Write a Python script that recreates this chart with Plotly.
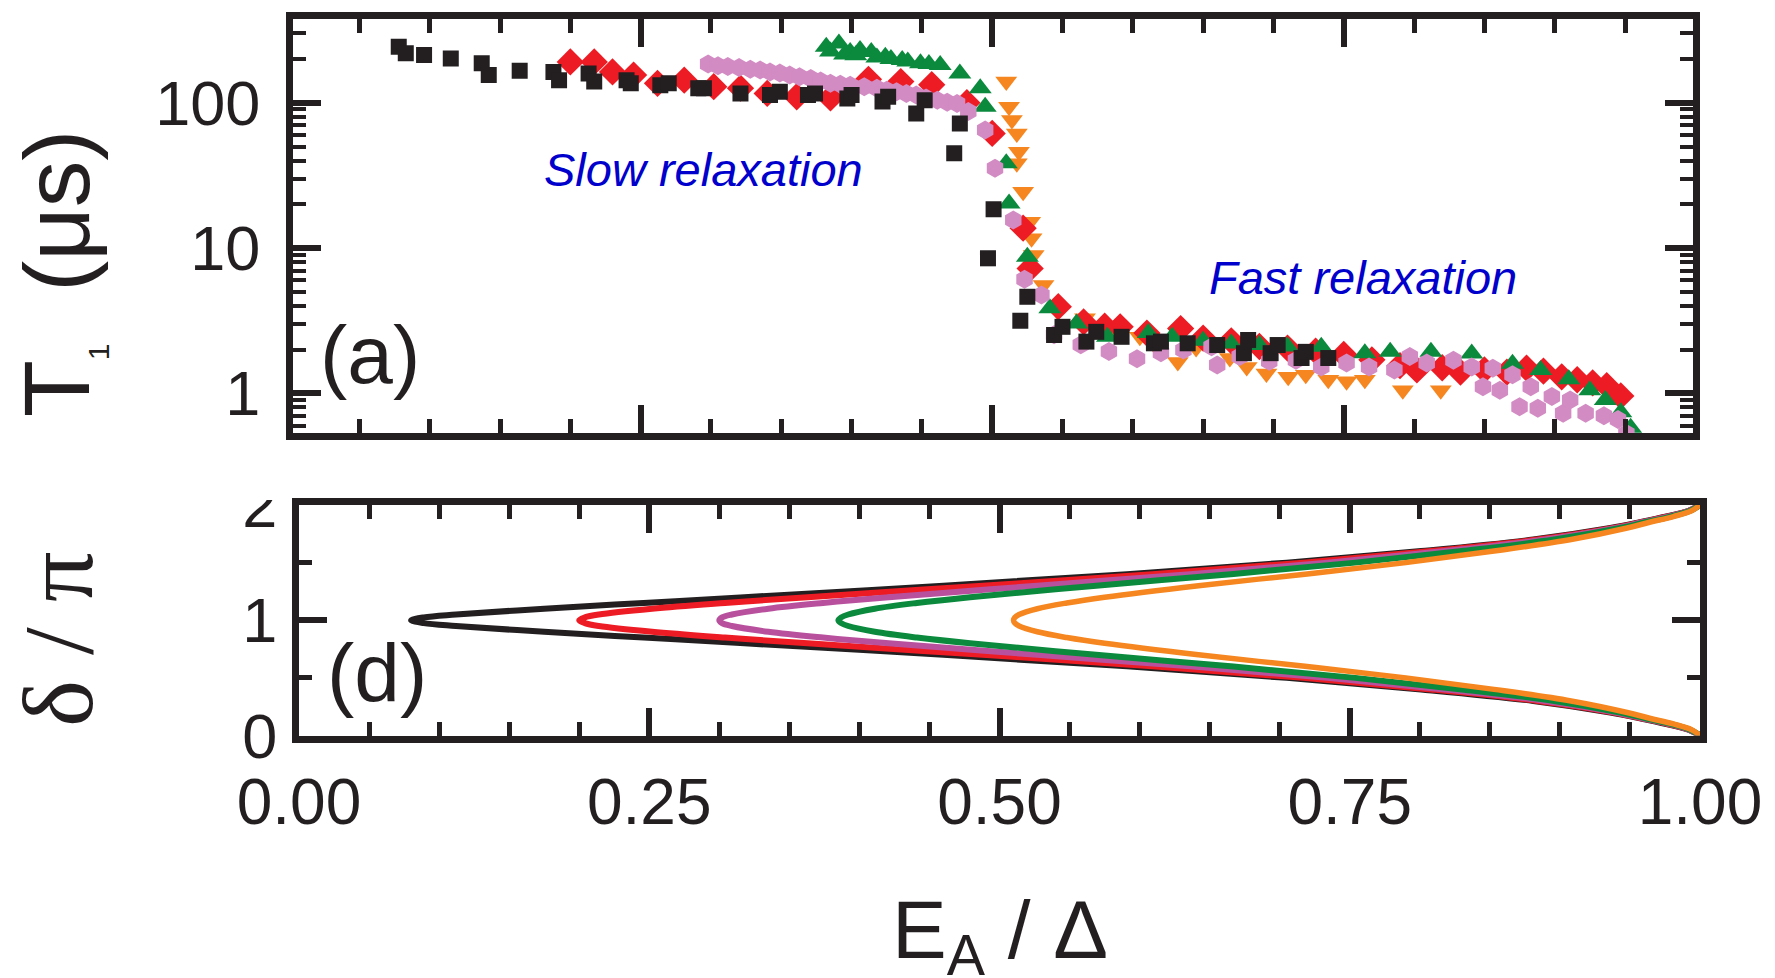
import plotly.graph_objects as go

# ---------------- data: panel (a)  T1 (us) vs E_A/Delta ----------------
black_E = [0.078, 0.083, 0.096, 0.115, 0.137, 0.142, 0.164, 0.188, 0.192, 0.213,
           0.217, 0.240, 0.243, 0.264, 0.270, 0.291, 0.295, 0.321, 0.342, 0.349,
           0.369, 0.374, 0.397, 0.400, 0.422, 0.426, 0.446, 0.452, 0.473, 0.477,
           0.497, 0.501, 0.520, 0.525, 0.544, 0.550, 0.567, 0.574, 0.592, 0.615,
           0.620, 0.639, 0.660, 0.679, 0.682, 0.698, 0.703, 0.720, 0.723, 0.739]
black_T = [243, 219, 213, 202, 187, 155, 166, 163, 143, 159,
           140, 143, 136, 132, 136, 126, 126, 116, 113, 119,
           113, 116, 107, 113, 102, 110, 84.5, 104, 44.9, 72,
           8.5, 18.5, 3.16, 4.62, 2.52, 2.87, 2.27, 2.65, 2.45, 2.21,
           2.27, 2.21, 2.15, 1.89, 2.33, 1.89, 2.15, 1.75, 1.93, 1.75]

red_E = [0.200, 0.217, 0.230, 0.245, 0.262, 0.281, 0.302, 0.321, 0.340, 0.361,
         0.385, 0.412, 0.435, 0.457, 0.482, 0.500, 0.522, 0.527, 0.547, 0.565,
         0.580, 0.591, 0.610, 0.634, 0.650, 0.670, 0.690, 0.710, 0.730, 0.750,
         0.770, 0.790, 0.802, 0.820, 0.833, 0.850, 0.866, 0.880, 0.892, 0.905,
         0.916, 0.927, 0.937, 0.947]
red_T = [191, 191, 163, 155, 136, 143, 129, 126, 116, 110,
         108, 145, 140, 133, 100, 61.5, 13.7, 7.24, 3.95, 3.1,
         2.9, 2.87, 2.6, 2.79, 2.4, 2.3, 2.1, 2.05, 1.95, 1.85,
         1.7, 1.55, 1.45, 1.5, 1.40, 1.45, 1.40, 1.49, 1.42, 1.30,
         1.24, 1.18, 1.13, 0.96]

green_E = [0.382, 0.385, 0.391, 0.395, 0.399, 0.403, 0.406, 0.414, 0.418, 0.424,
           0.428, 0.436, 0.440, 0.449, 0.455, 0.463, 0.477, 0.4915, 0.495, 0.510,
           0.512, 0.525, 0.541, 0.560, 0.582, 0.611, 0.628, 0.650, 0.670, 0.690,
           0.710, 0.734, 0.765, 0.783, 0.812, 0.841, 0.870, 0.890, 0.910, 0.925,
           0.936, 0.947, 0.954]
green_T = [243, 225, 256, 215, 224, 212, 231, 224, 205, 207,
           200, 197, 192, 187, 185, 182, 159, 126, 94, 38.3,
           20.3, 8.7, 3.85, 3.03, 2.45, 2.60, 2.45, 2.3, 2.2, 2.15,
           2.1, 2.09, 1.89, 1.93, 1.93, 1.88, 1.6, 1.45, 1.25, 1.05,
           0.90, 0.74, 0.58]

orange_E = [0.510, 0.512, 0.514, 0.5175, 0.519, 0.5175, 0.522, 0.527, 0.528, 0.5295,
            0.5365, 0.546, 0.566, 0.586, 0.605, 0.618, 0.632, 0.645, 0.669, 0.681,
            0.695, 0.7105, 0.723, 0.739, 0.752, 0.765, 0.792, 0.819]
orange_T = [140, 94, 76, 61.5, 46, 38.3, 24.4, 15.2, 11.7, 8.95,
            5.56, 3.74, 3.29, 2.63, 2.45, 2.0, 1.64, 2.05, 1.75, 1.52,
            1.37, 1.30, 1.34, 1.24, 1.21, 1.24, 1.05, 1.05]

pink_E = [0.298, 0.305, 0.312, 0.320, 0.328, 0.335, 0.342, 0.349, 0.356, 0.363,
          0.371, 0.378, 0.385, 0.392, 0.399, 0.409, 0.418, 0.425, 0.432, 0.439,
          0.446, 0.453, 0.461, 0.468, 0.475, 0.483, 0.495, 0.502, 0.515, 0.523,
          0.535, 0.544, 0.563, 0.583, 0.603, 0.620, 0.636, 0.656, 0.660, 0.676,
          0.697, 0.716, 0.734, 0.752, 0.768, 0.786, 0.797, 0.809, 0.828, 0.841,
          0.849, 0.856, 0.861, 0.870, 0.875, 0.883, 0.888, 0.898, 0.906, 0.911,
          0.922, 0.935, 0.945, 0.951]
pink_T = [185, 180, 178, 175, 170, 168, 163, 160, 155, 151,
          147, 141, 136, 134, 132, 129, 126, 122, 119, 116,
          113, 108, 104, 101, 99, 87, 65, 35.4, 15.6, 6.1,
          4.75, 2.53, 2.16, 1.94, 1.73, 1.9, 1.99, 2.09, 1.57, 1.79,
          1.66, 1.69, 1.52, 1.62, 1.52, 1.45, 1.79, 1.62, 1.69, 1.52,
          1.11, 1.49, 1.05, 1.34, 0.81, 1.11, 0.79, 0.95, 0.73, 0.90,
          0.73, 0.70, 0.66, 0.53]

# ---------------- data: panel (d)  delta/pi vs E_A/Delta ----------------
delta_pi = [0, 0.05, 0.1, 0.15, 0.2, 0.3, 0.4, 0.5, 0.6, 0.7, 0.8, 0.85, 0.9, 0.95, 0.975, 1.0,
            1.025, 1.05, 1.1, 1.15, 1.2, 1.3, 1.4, 1.5, 1.6, 1.7, 1.8, 1.85, 1.9, 1.95, 2.0]
curve_black = [1.0, 0.992, 0.976, 0.957, 0.936, 0.881, 0.801, 0.705, 0.591, 0.460, 0.318, 0.246, 0.175, 0.112, 0.089, 0.080,
               0.089, 0.112, 0.175, 0.246, 0.318, 0.460, 0.591, 0.705, 0.801, 0.881, 0.936, 0.957, 0.976, 0.992, 1.0]
curve_red = [1.0, 0.992, 0.977, 0.958, 0.938, 0.884, 0.808, 0.717, 0.609, 0.488, 0.363, 0.304, 0.252, 0.214, 0.204, 0.200,
             0.204, 0.214, 0.252, 0.304, 0.363, 0.488, 0.609, 0.717, 0.808, 0.884, 0.938, 0.958, 0.977, 0.992, 1.0]
curve_purple = [1.0, 0.992, 0.978, 0.959, 0.940, 0.889, 0.818, 0.734, 0.636, 0.527, 0.421, 0.374, 0.335, 0.309, 0.302, 0.300,
                0.302, 0.309, 0.335, 0.374, 0.421, 0.527, 0.636, 0.734, 0.818, 0.889, 0.940, 0.959, 0.978, 0.992, 1.0]
curve_green = [1.0, 0.993, 0.979, 0.961, 0.943, 0.896, 0.830, 0.754, 0.665, 0.569, 0.479, 0.441, 0.411, 0.392, 0.387, 0.385,
               0.387, 0.392, 0.411, 0.441, 0.479, 0.569, 0.665, 0.754, 0.830, 0.896, 0.943, 0.961, 0.979, 0.993, 1.0]
curve_orange = [1.0, 0.994, 0.981, 0.964, 0.948, 0.908, 0.853, 0.790, 0.718, 0.642, 0.575, 0.548, 0.527, 0.514, 0.511, 0.510,
                0.511, 0.514, 0.527, 0.548, 0.575, 0.642, 0.718, 0.790, 0.853, 0.908, 0.948, 0.964, 0.981, 0.994, 1.0]

x_major = [0, 0.25, 0.5, 0.75, 1.0]
x_major_text = ["0.00", "0.25", "0.50", "0.75", "1.00"]
x_minor = [0.05, 0.1, 0.15, 0.2, 0.3, 0.35, 0.4, 0.45, 0.55, 0.6, 0.65, 0.7, 0.8, 0.85, 0.9, 0.95]
t_major = [1, 10, 100]
t_major_text = ["1", "10", "100"]
t_minor = [0.6, 0.7, 0.8, 0.9, 2, 3, 4, 5, 6, 7, 8, 9, 20, 30, 40, 50, 60, 70, 80, 90, 200, 300, 400]
d_major = [0, 1, 2]
d_major_text = ["0", "1", "2"]
d_minor = [0.5, 1.5]

# ---------------- styling ----------------
W, H = 1775, 978
LC = "#231F20"
FONT = "Liberation Sans, Arial, sans-serif"
SERIF = "Liberation Serif, Times New Roman, serif"
C_BLACK, C_RED, C_GREEN, C_ORANGE, C_PINK = "#231F20", "#ED1C24", "#0B8A3E", "#F6861F", "#D38BC3"
C_PURPLE = "#B8509E"

fig = go.Figure()

def pts(x, y, sym, color, size):
    fig.add_trace(go.Scatter(x=x, y=y, mode="markers", xaxis="x", yaxis="y",
                             marker=dict(symbol=sym, color=color, size=size, line=dict(width=0)),
                             showlegend=False, hoverinfo="skip"))

pts(orange_E, orange_T, "triangle-down", C_ORANGE, 19)
pts(red_E, red_T, "diamond", C_RED, 21)
pts(green_E, green_T, "triangle-up", C_GREEN, 20)
pts(pink_E, pink_T, "hexagon", C_PINK, 19)
pts(black_E, black_T, "square", C_BLACK, 16)

for cv, col, w in [(curve_black, C_BLACK, 6), (curve_red, C_RED, 6), (curve_purple, C_PURPLE, 6),
                   (curve_green, C_GREEN, 6), (curve_orange, C_ORANGE, 5.5)]:
    fig.add_trace(go.Scatter(x=cv, y=delta_pi, mode="lines", xaxis="x2", yaxis="y2",
                             line=dict(color=col, width=w, shape="spline", smoothing=1.0),
                             showlegend=False, hoverinfo="skip"))

def px(v):
    return v / W

def py(v):
    return 1 - v / H

LW = 7
h = LW / 2
# top panel frame (line centres): x 289.5..1696, y 15..436.5
top_x = [px(289.5 + h), px(1696 - h)]
top_y = [py(436.5 - h), py(15 + h)]
# bottom panel frame: x 295.5..1703.5, y 501.5..739
bot_x = [px(295.5 + h), px(1703.5 - h)]
bot_y = [py(739 - h), py(501.5 + h)]

tick_common = dict(showline=True, linewidth=LW, linecolor=LC, ticks="inside", tickcolor=LC,
                   showgrid=False, zeroline=False, tickmode="array", automargin=False)
minor_common = dict(ticks="inside", tickcolor=LC, showgrid=False, tickmode="array")

fig.update_layout(
    template="none",
    width=W, height=H, margin=dict(l=0, r=0, t=0, b=0, pad=0, autoexpand=False),
    paper_bgcolor="white", plot_bgcolor="white", showlegend=False,
    xaxis=dict(domain=top_x, range=[0.0028, 0.998], anchor="y", mirror="allticks",
               tickvals=x_major, ticklen=28, tickwidth=6, showticklabels=False,
               minor=dict(tickvals=x_minor, ticklen=14, tickwidth=5, **minor_common), **tick_common),
    yaxis=dict(domain=top_y, type="log", range=[-0.273, 2.58], anchor="x", mirror="allticks",
               tickvals=t_major, ticktext=t_major_text, ticklen=28, tickwidth=6,
               tickfont=dict(family=FONT, size=63, color=LC), ticklabelstandoff=13,
               minor=dict(tickvals=t_minor, ticklen=13, tickwidth=4, **minor_common), **tick_common),
    xaxis2=dict(domain=bot_x, range=[0, 1], anchor="y2", mirror="allticks",
                tickvals=x_major, ticktext=x_major_text, ticklen=28, tickwidth=6,
                tickfont=dict(family=FONT, size=64, color=LC), ticklabelstandoff=5,
                minor=dict(tickvals=x_minor, ticklen=14, tickwidth=5, **minor_common), **tick_common),
    yaxis2=dict(domain=bot_y, range=[0, 2], anchor="x2", mirror="allticks",
                tickvals=d_major, ticktext=d_major_text, ticklen=28, tickwidth=6,
                tickfont=dict(family=FONT, size=63, color=LC), ticklabelstandoff=2,
                minor=dict(tickvals=d_minor, ticklen=13, tickwidth=5, **minor_common), **tick_common),
)

ann = []
def text(x, y, t, size, color=LC, family=FONT, angle=0):
    ann.append(dict(x=px(x), y=py(y), xref="paper", yref="paper", text=t, showarrow=False,
                    xanchor="center", yanchor="middle", textangle=angle,
                    font=dict(family=family, size=size, color=color)))

text(370, 354, "(a)", 82)
text(377, 672, "(d)", 82)
text(703, 170, "<i>Slow relaxation</i>", 47, color="#0000CC")
text(1363, 277, "<i>Fast relaxation</i>", 47, color="#0000CC")
text(60, 274, "T<sub><span style='font-size:30px'>1</span></sub>&nbsp;&nbsp;(μs)", 93, angle=-90)
text(58, 640, "δ / π", 100, family=SERIF, angle=-90)
text(1000, 935, "E<sub>A</sub> / Δ", 82)
fig.update_layout(annotations=ann)

# the top of the "2" label is hidden in the original
fig.add_shape(type="rect", xref="paper", yref="paper", x0=px(215), x1=px(285), y0=py(500), y1=py(445),
              fillcolor="white", line=dict(width=0), layer="above")

fig.write_html("out.html", config={"displayModeBar": False},
               post_script="document.body.style.margin='0';document.body.style.padding='0';"
                           "document.body.style.overflow='hidden';")
